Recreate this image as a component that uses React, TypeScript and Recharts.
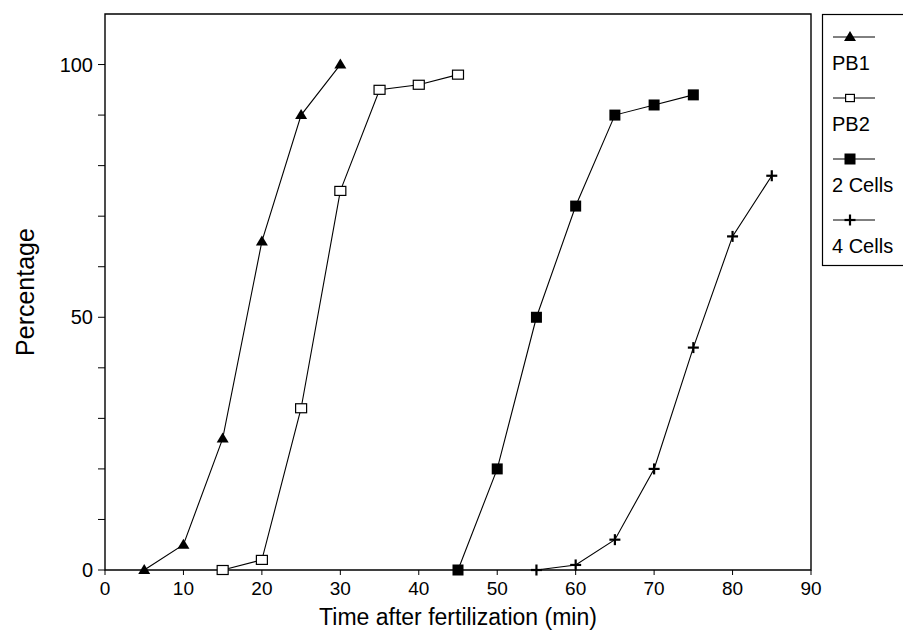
import React from 'react';
import { LineChart, Line, XAxis, YAxis, ReferenceArea, Label } from 'recharts';

const pb1Time = [5, 10, 15, 20, 25, 30];
const pb1Pct = [0, 5, 26, 65, 90, 100];
const pb2Time = [15, 20, 25, 30, 35, 40, 45];
const pb2Pct = [0, 2, 32, 75, 95, 96, 98];
const twoCellTime = [45, 50, 55, 60, 65, 70, 75];
const twoCellPct = [0, 20, 50, 72, 90, 92, 94];
const fourCellTime = [55, 60, 65, 70, 75, 80, 85];
const fourCellPct = [0, 1, 6, 20, 44, 66, 78];

const xTicks = [0, 10, 20, 30, 40, 50, 60, 70, 80, 90];
const yTicks = [0, 10, 20, 30, 40, 50, 60, 70, 80, 90, 100];
const yLabelled = [0, 50, 100];

const toPoints = (xs: number[], ys: number[]) => xs.map((t, i) => ({ t, v: ys[i] }));

const FONT = 'Arial, "Liberation Sans", Helvetica, sans-serif';

const Triangle = ({ cx, cy, s = 1 }: any) => (
  <path d={`M${cx},${cy - 6 * s} L${cx + 6 * s},${cy + 4 * s} L${cx - 6 * s},${cy + 4 * s} Z`} fill="#000" />
);
const OpenSquare = ({ cx, cy, s = 1 }: any) => (
  <rect x={cx - 5.5 * s} y={cy - 4.5 * s} width={11 * s} height={9 * s} fill="#fff" stroke="#000" strokeWidth={1.2} />
);
const FilledSquare = ({ cx, cy, s = 1 }: any) => (
  <rect x={cx - 5.5 * s} y={cy - 5.5 * s} width={11 * s} height={11 * s} fill="#000" />
);
const Plus = ({ cx, cy, s = 1 }: any) => (
  <g stroke="#000" strokeWidth={2.2}>
    <line x1={cx - 5.5 * s} y1={cy} x2={cx + 5.5 * s} y2={cy} />
    <line x1={cx} y1={cy - 5.5 * s} x2={cx} y2={cy + 5.5 * s} />
  </g>
);

const series = [
  { name: 'PB1', data: toPoints(pb1Time, pb1Pct), Marker: Triangle },
  { name: 'PB2', data: toPoints(pb2Time, pb2Pct), Marker: OpenSquare },
  { name: '2 Cells', data: toPoints(twoCellTime, twoCellPct), Marker: FilledSquare },
  { name: '4 Cells', data: toPoints(fourCellTime, fourCellPct), Marker: Plus },
];

function LegendBox() {
  return (
    <svg
      width={81}
      height={252}
      style={{ position: 'absolute', left: 822, top: 14, fontFamily: FONT, overflow: 'visible' }}
    >
      <rect x={0.5} y={0.5} width={90} height={251} fill="#fff" stroke="#000" strokeWidth={1.2} />
      {series.map(({ name, Marker }, i) => {
        const my = 23 + i * 61;
        return (
          <g key={name}>
            <line x1={11} y1={my} x2={53} y2={my} stroke="#000" strokeWidth={1} />
            <Marker cx={28} cy={my} s={i === 1 ? 0.8 : 1} />
            <text x={10} y={my + 33} fontSize={20} fill="#000">
              {name}
            </text>
          </g>
        );
      })}
    </svg>
  );
}

export default function App() {
  return (
    <div style={{ position: 'relative', width: 903, height: 630, overflow: 'hidden' }}>
      <style>{'body{margin:0}'}</style>
      <LineChart
        width={903}
        height={630}
        margin={{ top: 14, right: 92, bottom: 0, left: 0 }}
        style={{ fontFamily: FONT }}
      >
        <XAxis
          type="number"
          dataKey="t"
          domain={[0, 90]}
          ticks={xTicks}
          allowDuplicatedCategory={false}
          axisLine={false}
          tickSize={5}
          tickMargin={7}
          tickLine={{ stroke: '#000' }}
          tick={{ fill: '#000', fontSize: 19 }}
          height={60}
        >
          <Label
            content={({ viewBox }: any) => (
              <text
                x={viewBox.x + viewBox.width / 2}
                y={viewBox.y + 55}
                textAnchor="middle"
                fontSize={23}
                fill="#000"
              >
                Time after fertilization (min)
              </text>
            )}
          />
        </XAxis>
        <YAxis
          type="number"
          domain={[0, 110]}
          ticks={yTicks}
          interval={0}
          axisLine={false}
          tickSize={7}
          tickMargin={5}
          tickLine={{ stroke: '#000' }}
          tickFormatter={(v: number) => (yLabelled.includes(v) ? String(v) : '')}
          tick={{ fill: '#000', fontSize: 20 }}
          width={105}
        >
          <Label
            content={({ viewBox }: any) => {
              const cx = viewBox.x + 25;
              const cy = viewBox.y + viewBox.height / 2;
              return (
                <text
                  x={cx}
                  y={cy}
                  transform={`rotate(-90 ${cx} ${cy})`}
                  textAnchor="middle"
                  dominantBaseline="central"
                  fontSize={25}
                  fill="#000"
                >
                  Percentage
                </text>
              );
            }}
          />
        </YAxis>
        <ReferenceArea x1={0} x2={90} y1={0} y2={110} fill="none" stroke="#000" strokeWidth={1.4} ifOverflow="visible" />
        {series.map(({ name, data, Marker }) => (
          <Line
            key={name}
            data={data}
            dataKey="v"
            name={name}
            stroke="#000"
            strokeWidth={1.1}
            dot={(p: any) => <Marker key={`${name}-${p.index}`} cx={p.cx} cy={p.cy} />}
            activeDot={false}
            isAnimationActive={false}
          />
        ))}
      </LineChart>
      <LegendBox />
    </div>
  );
}
